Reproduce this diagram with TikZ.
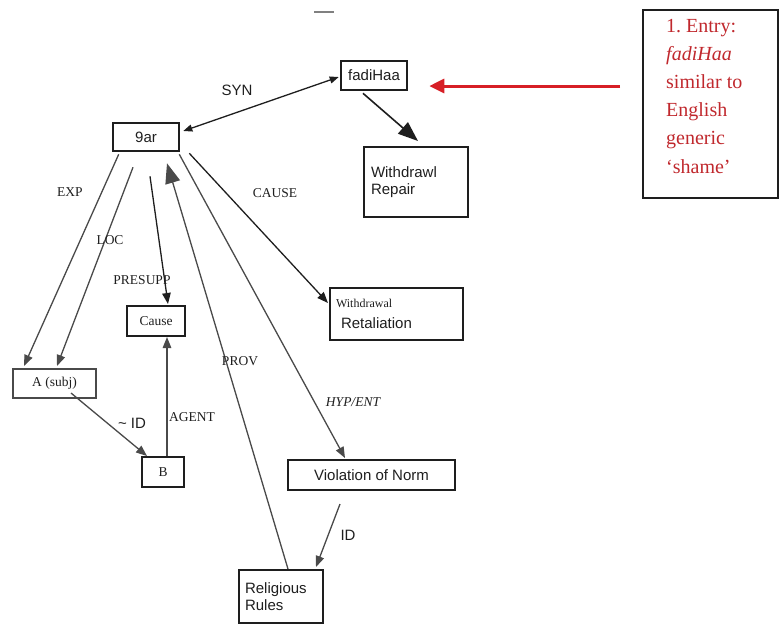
\documentclass[tikz,border=0pt]{standalone}
\usepackage{fontspec}
\setmainfont{Liberation Serif}
\newfontfamily\sansf{Liberation Sans}
\usetikzlibrary{arrows.meta}
\definecolor{ink}{HTML}{1E1E1E}
\definecolor{softink}{HTML}{4A4A4A}
\definecolor{entryred}{HTML}{C0282D}
\definecolor{pointred}{HTML}{D71F26}
\tikzset{
  box/.style={draw=ink, line width=2pt, inner sep=0pt, text=ink},
  thickbox/.style={box, line width=2.6pt},
  greybox/.style={box, draw=softink},
  sanstext/.style={font=\sansf\fontsize{15}{17}\selectfont, text=ink},
  seriftext/.style={font=\fontsize{13.5}{15}\selectfont, text=ink},
  rel/.style={draw=ink, line width=1.3pt, -{Triangle[length=11pt,width=8.5pt]}},
  greyrel/.style={rel, draw=softink, fill=softink},
  bigtip/.style={-{Triangle[length=20pt,width=15pt]}},
  lbl/.style={inner sep=0pt},
}
\begin{document}
\begin{tikzpicture}[x=1pt,y=-1pt]
\useasboundingbox (0,0) rectangle (779,625);

% concept boxes
\node[thickbox, sanstext, minimum width=66pt, minimum height=28pt] (ar) at (146,137) {9ar};
\node[thickbox, sanstext, minimum width=66pt, minimum height=29pt] (fad) at (374,75.5) {fadiHaa};
\node[box, sanstext, minimum width=104pt, minimum height=70pt, text width=90pt, align=left] (wrep) at (416,182) {Withdrawl\\Repair};
\node[box, minimum width=133pt, minimum height=52pt, text width=121pt, align=left] (wret) at (396.5,314)
  {{\fontsize{12}{13}\selectfont Withdrawal}\\[9pt]\hspace*{5pt}{\sansf\fontsize{15}{17}\selectfont Retaliation}};
\node[box, seriftext, minimum width=58pt, minimum height=30pt] (cause) at (156,321) {Cause};
\node[greybox, seriftext, minimum width=83pt, minimum height=29pt] (asubj) at (54.5,383.5) {A (subj)};
\node[box, seriftext, minimum width=42pt, minimum height=30pt] (bnode) at (163,472) {B};
\node[box, sanstext, minimum width=167pt, minimum height=30pt] (viol) at (371.5,475) {Violation of Norm};
\node[box, sanstext, minimum width=84pt, minimum height=53pt, text width=72pt, align=left] (relig) at (281,596.5) {Religious\\Rules};

% dictionary entry note
\node[box, draw=ink, minimum width=135pt, minimum height=188pt] (entry) at (710.5,104) {};
\node[anchor=north west, inner sep=0pt, align=left, text=entryred,
      font=\fontsize{20}{28}\selectfont] (entrytext) at (666,19.5)
  {1.\ Entry:\\\textit{fadiHaa}\\similar to\\English\\generic\\[1pt]‘shame’};
\coordinate (redtail) at (620,86);
\draw[pointred, line width=3pt, -{Triangle[length=15pt,width=14pt]}, shorten >=21pt]
  (redtail) -- (redtail -| fad.east);

% relations
\draw[draw=ink, line width=1.3pt, {Triangle[length=9pt,width=7pt]}-{Triangle[length=9pt,width=7pt]}]
  ([shift={(3,-6)}]ar.east) -- ([shift={(-1,1.5)}]fad.west);
\draw[rel, line width=1.6pt, bigtip] ([shift={(-11,2)}]fad.south) -- ([shift={(2,-5)}]wrep.north);
\draw[greyrel] ([shift={(7,2)}]ar.south west) -- ([shift={(12,-2)}]asubj.north west);
\draw[greyrel] ([shift={(-13,15)}]ar.south) -- ([shift={(2.5,-2)}]asubj.north);
\draw[rel] ([shift={(4,24)}]ar.south) -- ([shift={(12,-1)}]cause.north);
\draw[rel, draw=softink, fill=ink, bigtip] ([shift={(7,0)}]relig.north) -- ([shift={(21,11)}]ar.south);
\draw[rel, draw=softink] ([shift={(-1,2)}]ar.south east) -- ([shift={(-26.5,-1)}]viol.north);
\draw[rel] ([shift={(9,1)}]ar.south east) -- ([shift={(-1,-11)}]wret.west);
\draw[greyrel] ([shift={(16.5,-6)}]asubj.south) -- ([shift={(6,0)}]bnode.north west);
\draw[greyrel] ([shift={(4,0)}]bnode.north) -- ([shift={(11,0)}]cause.south);
\draw[rel, draw=softink] ([shift={(-31.5,13)}]viol.south) -- ([shift={(-8,-2)}]relig.north east);

% relation labels
\node[lbl, sanstext] (synlbl) at (237,90) {SYN};
\node[lbl, seriftext] (explbl) at (70,192) {EXP};
\node[lbl, seriftext] (causelbl) at (275,193) {CAUSE};
\node[lbl, seriftext] (loclbl) at (110,240) {LOC};
\node[lbl, seriftext] (presupplbl) at (142,280) {PRESUPP};
\node[lbl, seriftext] (provlbl) at (240,361) {PROV};
\node[lbl, seriftext] (agentlbl) at (192,417) {AGENT};
\node[lbl, sanstext] (notidlbl) at (132,423) {\textasciitilde\ ID};
\node[lbl, seriftext, font=\itshape\fontsize{13.5}{15}\selectfont] (hyplbl) at (353,402) {HYP/ENT};
\node[lbl, sanstext] (idlbl) at (348,535) {ID};

% stray pen stroke near the top edge
\draw[softink!70, line width=1.5pt] (314,12) -- (334,12);
\end{tikzpicture}
\end{document}
